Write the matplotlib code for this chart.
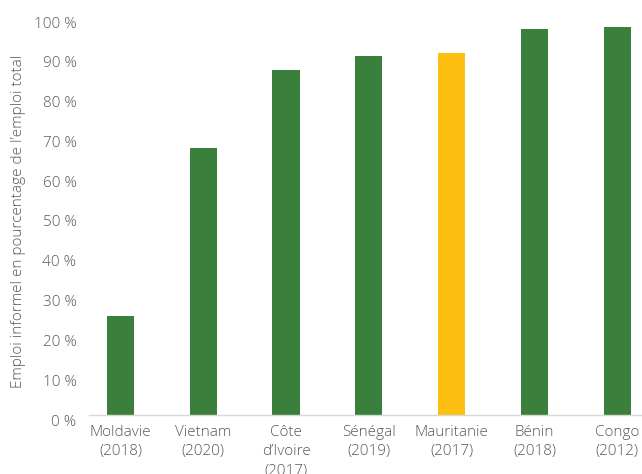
import matplotlib
matplotlib.use("Agg")
import matplotlib.pyplot as plt
import matplotlib.transforms as mtransforms

categories = ["Moldavie\n(2018)", "Vietnam\n(2020)", "Côte\nd’Ivoire\n(2017)", "Sénégal\n(2019)",
              "Mauritanie\n(2017)", "Bénin\n(2018)", "Congo\n(2012)"]
values = [25.0, 67.1, 86.7, 90.2, 91.0, 97.0, 97.6]
highlight = "Mauritanie\n(2017)"
yticks = list(range(0, 101, 10))
ytick_labels = [f"{t} %" for t in yticks]

green = "#3B7F3D"
yellow = "#FDC010"
text_color = "#595959"

plt.rcParams['font.family'] = ['Open Sans', 'DejaVu Sans']
plt.rcParams['font.weight'] = 'light'

fig = plt.figure(figsize=(6.42, 4.74), dpi=100)
ax = fig.add_axes([89/642, 59/474, 1 - 89/642, (415-17)/474])

colors = [yellow if c == highlight else green for c in categories]
x = list(range(len(categories)))
ax.bar(x, values, width=0.33, color=colors, zorder=2)

ax.set_xlim(-0.38, 6.30)
ax.set_ylim(0, 100)
ax.set_yticks(yticks)
ax.set_yticklabels(ytick_labels, fontweight='light')
ax.set_xticks(x)
ax.set_xticklabels(categories, linespacing=1.4, fontweight='light')

for s in ["top", "right", "left"]:
    ax.spines[s].set_visible(False)
ax.spines["bottom"].set_color("#D9D9D9")
ax.spines["bottom"].set_linewidth(1.0)

ax.tick_params(axis="both", length=0, labelsize=11, colors=text_color)
ax.tick_params(axis="y", pad=9)
ax.tick_params(axis="x", pad=7)

offset = mtransforms.ScaledTranslation(0, -5/100, fig.dpi_scale_trans)
for lab in ax.get_yticklabels():
    lab.set_transform(lab.get_transform() + offset)

ax.set_ylabel("Emploi informel en pourcentage de l’emploi total", fontsize=11,
              color=text_color, fontweight='light')
ax.yaxis.set_label_coords(-0.114, 0.487)

fig.savefig("out.png", dpi=100)
